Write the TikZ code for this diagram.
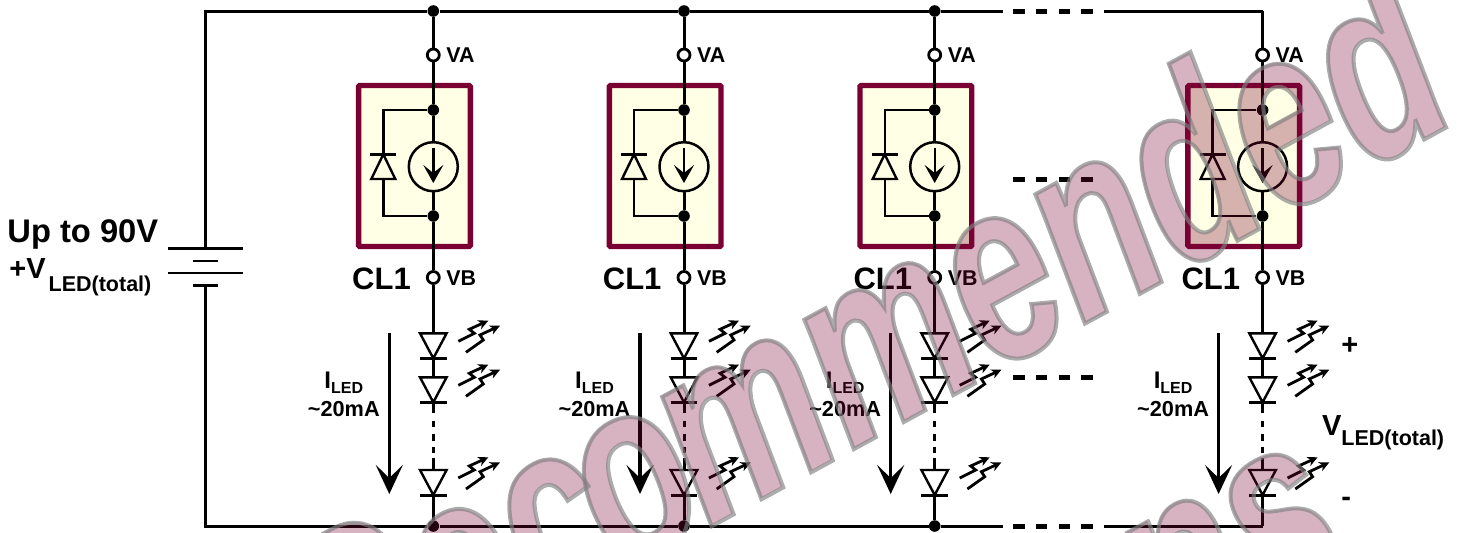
\documentclass[tikz,border=0pt]{standalone}
\usepackage{fontspec}
\usepackage{xcolor}
\usepackage{tikz}
\usetikzlibrary{arrows.meta}
\setmainfont{Liberation Sans}
\newfontface\wmFace{Liberation Sans Bold Italic}[FakeStretch=0.70]
\definecolor{wire}{HTML}{000000}
\definecolor{boxEdge}{HTML}{7A0033}
\definecolor{boxFill}{HTML}{FFFFE6}
\definecolor{wmEdge}{HTML}{808080}
\newcommand{\wmOutline}{\special{pdf:code 1 Tr 2 w}}
\newcommand{\wmSolid}{\special{pdf:code 0 Tr}}
\newcommand{\wmWordA}{Rec\kern-8.5pt o\kern-5.5pt mmended}
\tikzset{
  clWire/.style={draw=wire, line width=1.5pt},
  clThin/.style={draw=wire, line width=1.2pt},
  clBox/.style={draw=boxEdge, fill=boxFill, line width=2.7pt, rounded corners=0.6pt},
  clDot/.style={circle, fill=wire, inner sep=0pt, minimum size=5.8pt},
  clPin/.style={circle, draw=wire, fill=white, line width=1.4pt, inner sep=0pt, minimum size=6pt},
  clSrc/.style={circle, draw=wire, line width=1.25pt, inner sep=0pt, minimum size=24.5pt},
  clSrcArrow/.style={clThin, -{Stealth[length=9pt,width=10pt,inset=4pt]}},
  clCurArrow/.style={draw=wire, line width=1.6pt, -{Stealth[length=14.5pt,width=13.5pt,inset=6.5pt]}},
  clRayArrow/.style={draw=wire, line width=1.4pt, -{Stealth[length=5pt,width=4.8pt,inset=1.5pt]}},
  clGap/.style={draw=wire, line width=2.5pt, dash pattern=on 5.8pt off 5.6pt},
  clPinText/.style={font=\fontsize{10.7}{12}\selectfont\bfseries, anchor=base west, inner sep=0pt},
  clName/.style={font=\fontsize{15.5}{18}\selectfont\bfseries, anchor=base west, inner sep=0pt},
  clCurText/.style={font=\fontsize{10.85}{12}\selectfont\bfseries, anchor=base, inner sep=0pt},
  clSupply/.style={font=\fontsize{16.35}{18}\selectfont\bfseries, anchor=base west, inner sep=0pt},
  clVolt/.style={font=\fontsize{14.5}{16}\selectfont\bfseries, anchor=base west, inner sep=0pt},
  wmText/.style={inner sep=0pt, rotate=28.5, font=\fontsize{130}{130}\wmFace}
}

\begin{document}
\begin{tikzpicture}[x=0.5pt,y=-0.5pt]
  \useasboundingbox (0,0) rectangle (1464,532);

  % supply rails
  \coordinate (railTL) at (205.5,11);
  \coordinate (railBL) at (205.5,526);
  \coordinate (batTop) at (205.5,248.3);
  \coordinate (batBot) at (205.5,285.7);
  \coordinate (gapTopL) at (1002.7,11);
  \coordinate (gapTopR) at (1104,11);
  \coordinate (gapBotL) at (1002.7,526);
  \coordinate (gapBotR) at (1104,526);
  \coordinate (top4) at (1262.6,11);
  \coordinate (bot4) at (1262.6,526);
  \foreach \n/\x in {1/433.3,2/684,3/934.7}{
    \node[clDot] (top\n) at (\x,11) {};
    \node[clDot] (bot\n) at (\x,526) {};
  }
  \draw[clWire] (batTop) -- (railTL) -- (top1) -- (top2) -- (top3) -- (gapTopL);
  \draw[clWire] (gapTopR) -- (top4);
  \draw[clWire] (batBot) -- (railBL) -- (bot1) -- (bot2) -- (bot3) -- (gapBotL);
  \draw[clWire] (gapBotR) -- (bot4);

  % battery
  \draw[clWire] (168,248.3) -- (242.7,248.3);
  \draw[clThin] (193,260.7) -- (218,260.7);
  \draw[clThin] (168,272.7) -- (242.7,272.7);
  \draw[clWire] (193,285.7) -- (218,285.7);
  \node[clSupply] (supplyA) at (7,242.7) {Up to 90V};
  \node[clVolt] (supplyB) at (9,278) {+V\hspace{1.5pt}\raisebox{-6.85pt}{\fontsize{10.75}{12}\selectfont LED(total)}};

  % one string per column
  \foreach \n/\x in {1/433.3,2/684,3/934.7,4/1262.6}{
    \draw[clBox] (\x-74.7,85.5) rectangle (\x+37,246.5);
    \node[clPin] (pinA\n) at (\x,55) {};
    \node[clPin] (pinB\n) at (\x,277.5) {};
    \node[clDot] (jcnA\n) at (\x,110) {};
    \node[clDot] (jcnB\n) at (\x,216) {};
    \node[clSrc] (src\n) at (\x,166.7) {};
    \node[clPinText] (textA\n) at (\x+12.7,62.5) {VA};
    \node[clPinText] (textB\n) at (\x+12.7,285) {VB};
    \node[clName] (name\n) at (\x-81.5,289.5) {CL1};
    \draw[clWire] (top\n) -- (pinA\n);
    \draw[clWire] (pinA\n) -- (jcnA\n);
    \draw[clWire] (jcnA\n) -- (src\n);
    \draw[clWire] (src\n) -- (jcnB\n);
    \draw[clWire] (jcnB\n) -- (pinB\n);
    \coordinate (srcS\n) at (\x,148);
    \coordinate (srcE\n) at (\x,183);
    \draw[clSrcArrow] (srcS\n) -- (srcE\n);
    % clamp diode
    \draw[clThin] (jcnA\n) -- (\x-50,110) -- (\x-50,154.3);
    \draw[clThin] (\x-50,179) -- (\x-50,216) -- (jcnB\n);
    \draw[clThin] (\x-63,154.3) -- (\x-37,154.3);
    \draw[clThin] (\x-50,154.3) -- (\x-62,179) -- (\x-38,179) -- cycle;
    % leds
    \foreach \k/\y in {A/333.3,B/377.3,C/470}{
      \coordinate (led\k\n) at (\x,\y);
      \coordinate (bar\k\n) at (\x,\y+25);
      \draw[clThin] (\x-13.3,\y) -- (\x+13.3,\y) -- (\x,\y+25) -- cycle;
      \draw[clWire] (\x-13.3,\y+25) -- (\x+13.3,\y+25);
      \draw[clRayArrow] (\x+25,\y+8) -- (\x+41,\y) -- (\x+36,\y-4) -- (\x+55,\y-12.7);
      \draw[clRayArrow] (\x+32.7,\y+19) -- (\x+50,\y+6.7) -- (\x+46.7,\y+1.7) -- (\x+66.7,\y-7.6);
    }
    \draw[clWire] (pinB\n) -- (ledA\n);
    \draw[clWire] (barA\n) -- (ledB\n);
    \draw[clWire] (barB\n) -- ++(0,11);
    \draw[clWire] (ledC\n) -- ++(0,-12);
    \draw[clWire, dash pattern=on 3.3pt off 3.3pt] (\x,420.7) -- (\x,453);
    \draw[clWire] (barC\n) -- (bot\n);
    % string current
    \coordinate (curS\n) at (\x-44,333);
    \coordinate (curE\n) at (\x-44,494);
    \draw[clCurArrow] (curS\n) -- (curE\n);
    \node[clCurText] (curA\n) at (\x-89.5,388) {\fontsize{12}{12}\selectfont I\raisebox{-2.5pt}{\fontsize{8}{8}\selectfont LED}};
    \node[clCurText] (curB\n) at (\x-89.5,416.7) {\textasciitilde 20mA};
  }

  % more columns
  \foreach \k/\y in {T/11,M/179,L/377,B/526}{
    \coordinate (dotsL\k) at (1013,\y);
    \coordinate (dotsR\k) at (1094,\y);
    \draw[clGap] (dotsL\k) -- (dotsR\k);
  }

  % total voltage
  \node[clVolt] (plusV) at (1341,354) {+};
  \node[clVolt] (minusV) at (1341,506) {-};
  \node[clVolt] (totalV) at (1321.7,435) {V\raisebox{-5.35pt}{\fontsize{10.75}{12}\selectfont LED(total)}};

  % watermark
  \begin{scope}[fill opacity=0.3]
    \node[wmText, anchor=base west, text=boxEdge] (wmFillA) at (342,727) {\wmWordA};
    \node[wmText, anchor=base east, text=boxEdge] (wmFillB) at (1361,562) {Designs};
  \end{scope}
  \begin{scope}[draw opacity=0.65, fill opacity=0.65]
    \node[wmText, anchor=base west, text=wmEdge] (wmEdgeA) at (342,727) {\wmOutline\wmWordA\wmSolid};
    \node[wmText, anchor=base east, text=wmEdge] (wmEdgeB) at (1361,562) {\wmOutline Designs\wmSolid};
  \end{scope}
\end{tikzpicture}
\end{document}
